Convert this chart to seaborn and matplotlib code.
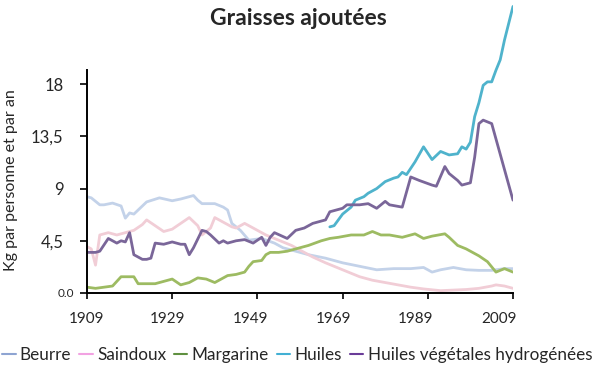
import pandas as pd
import matplotlib
matplotlib.use('Agg')
import matplotlib.pyplot as plt
import seaborn as sns

# values (kg per person per year)
beurre_years = [1909, 1910, 1912, 1913, 1915, 1917, 1918, 1919, 1920, 1922, 1923, 1926, 1929, 1931,
                1934, 1935, 1936, 1939, 1941, 1942, 1943, 1945, 1947, 1950, 1953, 1955, 1958, 1961,
                1965, 1969, 1973, 1977, 1981, 1985, 1988, 1990, 1992, 1995, 1998, 2001, 2004, 2007, 2009]
beurre = [8.3, 8.2, 7.6, 7.6, 7.75, 7.5, 6.45, 6.9, 6.8, 7.5, 7.85, 8.2, 7.95, 8.1,
          8.4, 8.0, 7.7, 7.7, 7.4, 7.15, 6.0, 5.4, 4.55, 4.7, 4.3, 3.9, 3.6, 3.3,
          3.0, 2.6, 2.3, 2.0, 2.1, 2.1, 2.2, 1.8, 2.0, 2.2, 2.0, 1.95, 1.95, 2.1, 2.1]

saindoux_years = [1909, 1910, 1911, 1912, 1914, 1916, 1918, 1920, 1922, 1923, 1925, 1927, 1929, 1931,
                  1933, 1935, 1936, 1938, 1939, 1941, 1943, 1944, 1946, 1948, 1949, 1951, 1953, 1955,
                  1957, 1959, 1962, 1965, 1969, 1973, 1976, 1979, 1982, 1985, 1988, 1992, 1995, 1998,
                  2001, 2004, 2005, 2007, 2009]
saindoux = [4.0, 3.8, 2.4, 5.0, 5.2, 5.0, 5.2, 5.4, 5.9, 6.3, 5.8, 5.3, 5.5, 6.0,
            6.5, 5.8, 5.0, 5.6, 6.5, 6.1, 5.7, 5.6, 6.0, 5.6, 5.4, 5.0, 4.7, 4.4,
            4.1, 3.7, 3.1, 2.6, 2.0, 1.4, 1.1, 0.9, 0.7, 0.5, 0.35, 0.2, 0.25, 0.3,
            0.4, 0.6, 0.7, 0.6, 0.4]

margarine_years = [1909, 1911, 1913, 1915, 1916, 1917, 1920, 1921, 1925, 1927, 1929, 1931, 1933, 1935,
                   1937, 1939, 1941, 1942, 1944, 1946, 1947, 1948, 1950, 1951, 1952, 1954, 1956, 1958,
                   1961, 1964, 1966, 1968, 1971, 1974, 1976, 1978, 1980, 1983, 1986, 1988, 1990, 1993,
                   1994, 1996, 1998, 1999, 2001, 2003, 2005, 2007, 2009]
margarine = [0.5, 0.4, 0.5, 0.6, 1.0, 1.4, 1.4, 0.8, 0.8, 1.0, 1.2, 0.7, 0.9, 1.3,
             1.2, 0.9, 1.3, 1.5, 1.6, 1.8, 2.3, 2.7, 2.8, 3.3, 3.5, 3.5, 3.6, 3.8,
             4.1, 4.5, 4.7, 4.8, 5.0, 5.0, 5.3, 5.0, 5.0, 4.8, 5.1, 4.7, 4.9, 5.1,
             4.8, 4.1, 3.8, 3.6, 3.2, 2.7, 1.8, 2.1, 1.8]

huiles_years = [1966, 1967, 1969, 1971, 1972, 1974, 1975, 1977, 1979, 1981, 1982, 1983, 1984, 1986,
                1988, 1990, 1992, 1994, 1996, 1997, 1998, 1999, 2000, 2001, 2002, 2003, 2004, 2005,
                2006, 2007, 2009]
huiles = [5.7, 5.8, 6.8, 7.4, 8.0, 8.3, 8.6, 9.0, 9.6, 9.9, 10.0, 10.4, 10.2, 11.3,
          12.6, 11.5, 12.2, 11.9, 12.0, 12.6, 12.4, 13.0, 15.2, 16.4, 17.9, 18.2, 18.2, 19.2,
          20.1, 21.8, 24.7]

hydro_years = [1909, 1911, 1912, 1914, 1916, 1917, 1918, 1919, 1920, 1922, 1923, 1924, 1925, 1927,
               1929, 1931, 1932, 1933, 1934, 1936, 1937, 1938, 1940, 1941, 1942, 1944, 1946, 1948,
               1950, 1951, 1952, 1953, 1956, 1958, 1960, 1962, 1965, 1966, 1969, 1970, 1973, 1975,
               1977, 1979, 1980, 1983, 1985, 1987, 1990, 1991, 1993, 1994, 1996, 1997, 1999, 2000,
               2001, 2002, 2004, 2009]
hydro = [3.5, 3.5, 3.6, 4.7, 4.3, 4.5, 4.4, 5.2, 3.3, 2.9, 2.9, 3.0, 4.3, 4.2,
         4.4, 4.2, 4.2, 3.3, 3.9, 5.4, 5.3, 5.0, 4.3, 4.5, 4.3, 4.5, 4.6, 4.3,
         4.8, 4.1, 4.8, 5.2, 4.7, 5.4, 5.6, 6.0, 6.3, 7.0, 7.3, 7.6, 7.6, 7.7,
         7.3, 7.9, 7.6, 7.4, 10.0, 9.7, 9.3, 9.2, 10.9, 10.3, 9.7, 9.3, 9.5, 11.7,
         14.6, 14.9, 14.6, 8.0]

series = ['Beurre', 'Saindoux', 'Margarine', 'Huiles', 'Huiles végétales hydrogénées']
line_colors = ['#c3d2e9', '#f1cdd6', '#9dbb62', '#4fb3cc', '#7a6699']
legend_colors = ['#8ea4d2', '#f2a2e2', '#5f9040', '#42b0d4', '#6a3c98']

y_ticks = [0, 4.5, 9, 13.5, 18]
y_labels = ['0.0', '4,5', '9', '13,5', '18']
x_ticks = [1909, 1929, 1949, 1969, 1989, 2009]

frames = []
for name, yrs, vals in zip(series,
                           [beurre_years, saindoux_years, margarine_years, huiles_years, hydro_years],
                           [beurre, saindoux, margarine, huiles, hydro]):
    frames.append(pd.DataFrame({'Année': yrs, 'Kg': vals, 'Graisse': name}))
df = pd.concat(frames, ignore_index=True)

sns.set_style('white')
plt.rcParams['font.family'] = ['Lato', 'DejaVu Sans']

fig = plt.figure(figsize=(6, 3.69), dpi=100)
ax = fig.add_axes([0.145, 0.206, 0.71, 0.786])

sns.lineplot(data=df, x='Année', y='Kg', hue='Graisse', hue_order=series,
             palette=line_colors, linewidth=2.0, legend=False, ax=ax)

ax.set_xlim(1909, 2009)
ax.set_ylim(0, 25)
sns.despine(ax=ax)
ax.spines['left'].set_bounds(0, 19.2)
for s in ['left', 'bottom']:
    ax.spines[s].set_linewidth(1.4)
    ax.spines[s].set_color('black')

ax.set_yticks(y_ticks)
ax.set_yticklabels(y_labels, fontsize=12)
ax.tick_params(axis='y', left=True, length=5, width=1.2, color='black', pad=12)
ytl = ax.get_yticklabels()
ytl[0].set_fontsize(8.5)
ax.yaxis.get_major_ticks()[0].set_pad(4)

# ticks on the axis, labels drawn slightly left as in the original
ax.xaxis.remove_overlapping_locs = False
ax.set_xticks(x_ticks)
ax.set_xticklabels([])
ax.tick_params(axis='x', which='major', bottom=True, length=4, width=1.2, color='black')
label_shift = [0, -1, -1.6, -2.1, -2.8, -3.3]
ax.set_xticks([t + d for t, d in zip(x_ticks, label_shift)], minor=True)
ax.set_xticklabels([str(t) for t in x_ticks], minor=True, fontsize=11)
ax.tick_params(axis='x', which='minor', bottom=True, length=0, pad=14)

ax.set_xlabel('')
ax.set_ylabel('Kg par personne et par an', fontsize=11.5)
ax.yaxis.set_label_coords(-0.163, 0.39)

fig.text(0.497, 0.95, 'Graisses ajoutées', fontsize=16.5, fontweight='bold',
         ha='center', va='center')

handles = [plt.Line2D([], [], color=c, linewidth=1.5) for c in legend_colors]
fig.legend(handles, series, loc='center', bbox_to_anchor=(0.495, 0.038), ncol=5,
           frameon=False, fontsize=12.3, handlelength=0.8, handletextpad=0.25,
           columnspacing=0.45, borderaxespad=0)

fig.savefig('out.png', dpi=100)
